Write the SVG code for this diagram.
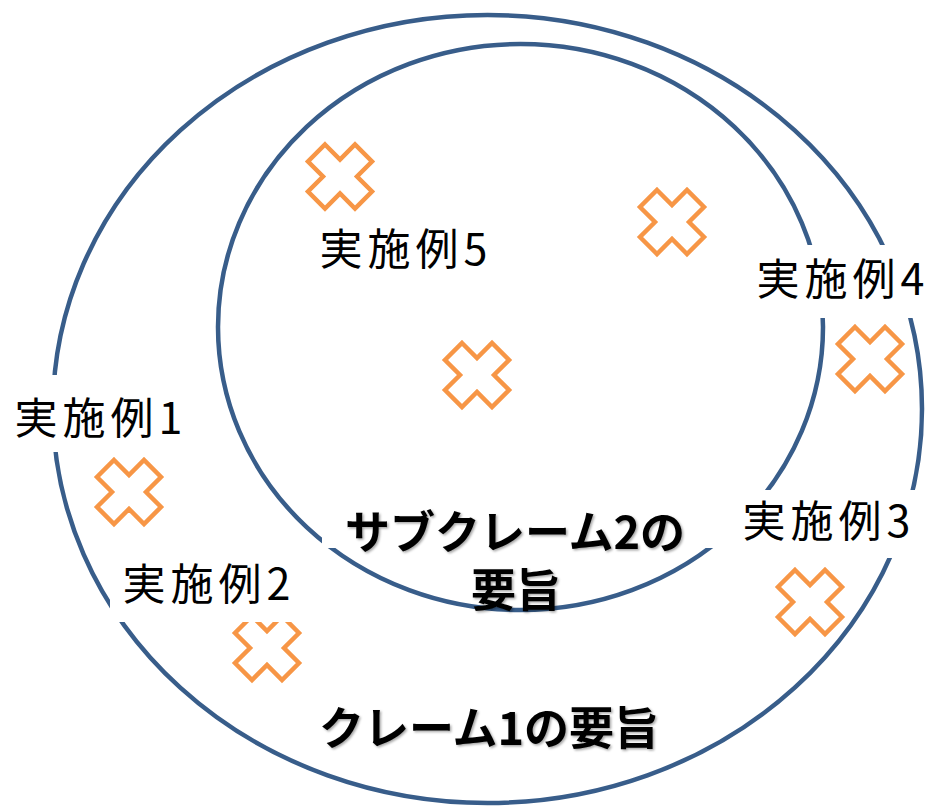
<svg xmlns="http://www.w3.org/2000/svg" width="930" height="807" viewBox="0 0 930 807">
<style>
.ring{fill:none;stroke:#385D8A;stroke-width:4.5}
.x{fill:#fff;stroke:#F79646;stroke-width:4.5;stroke-linejoin:miter}
.bg{fill:#fff}
.lbl{font-family:"Noto Sans CJK JP","Noto Sans CJK SC",sans-serif;font-size:43px;fill:#000;text-anchor:middle;letter-spacing:5px}
.big{font-family:"Noto Sans CJK JP","Noto Sans CJK SC",sans-serif;font-size:45px;font-weight:bold;fill:#000;text-anchor:middle}
</style>
<defs>
<polygon id="cross" points="-15,-32 0,-17 15,-32 32,-15 17,0 32,15 15,32 0,17 -15,32 -32,15 -17,0 -32,-15"/>
<filter id="sh" x="-5%" y="-10%" width="110%" height="130%">
<feDropShadow dx="1.5" dy="1.5" stdDeviation="1" flood-color="#000" flood-opacity="0.35"/>
</filter>
</defs>
<g id="connectors">
<ellipse id="claim1" class="ring" cx="487.5" cy="409" rx="434.5" ry="394"/>
<ellipse id="subclaim2" class="ring" cx="520.5" cy="327" rx="302.5" ry="283"/>
</g>
<g id="crosses">
<use href="#cross" class="x" x="340" y="176.5"/>
<use href="#cross" class="x" x="672" y="222"/>
<use href="#cross" class="x" x="477" y="375"/>
<use href="#cross" class="x" x="870" y="359"/>
<use href="#cross" class="x" x="129" y="492"/>
<use href="#cross" class="x" x="267" y="648"/>
<use href="#cross" class="x" x="810" y="602"/>
</g>
<g id="ex1"><rect class="bg" x="5" y="375" width="192" height="77"/><text class="lbl" x="101" y="434">実施例1</text></g>
<g id="ex2"><rect class="bg" x="110" y="550" width="192" height="72"/><text class="lbl" x="209" y="600">実施例2</text></g>
<g id="ex3"><rect class="bg" x="730" y="490" width="198" height="68"/><text class="lbl" x="829" y="537">実施例3</text></g>
<g id="ex4"><rect class="bg" x="745" y="245" width="185" height="73"/><text class="lbl" x="843" y="295">実施例4</text></g>
<g id="ex5"><text class="lbl" x="406" y="265">実施例5</text></g>
<g id="sub2"><rect class="bg" x="322" y="498" width="413" height="50"/><text class="big" filter="url(#sh)"><tspan x="515" y="549">サブクレーム2の</tspan><tspan x="516" y="607">要旨</tspan></text></g>
<g id="claim1label"><text class="big" filter="url(#sh)" x="489" y="745">クレーム1の要旨</text></g>
</svg>
